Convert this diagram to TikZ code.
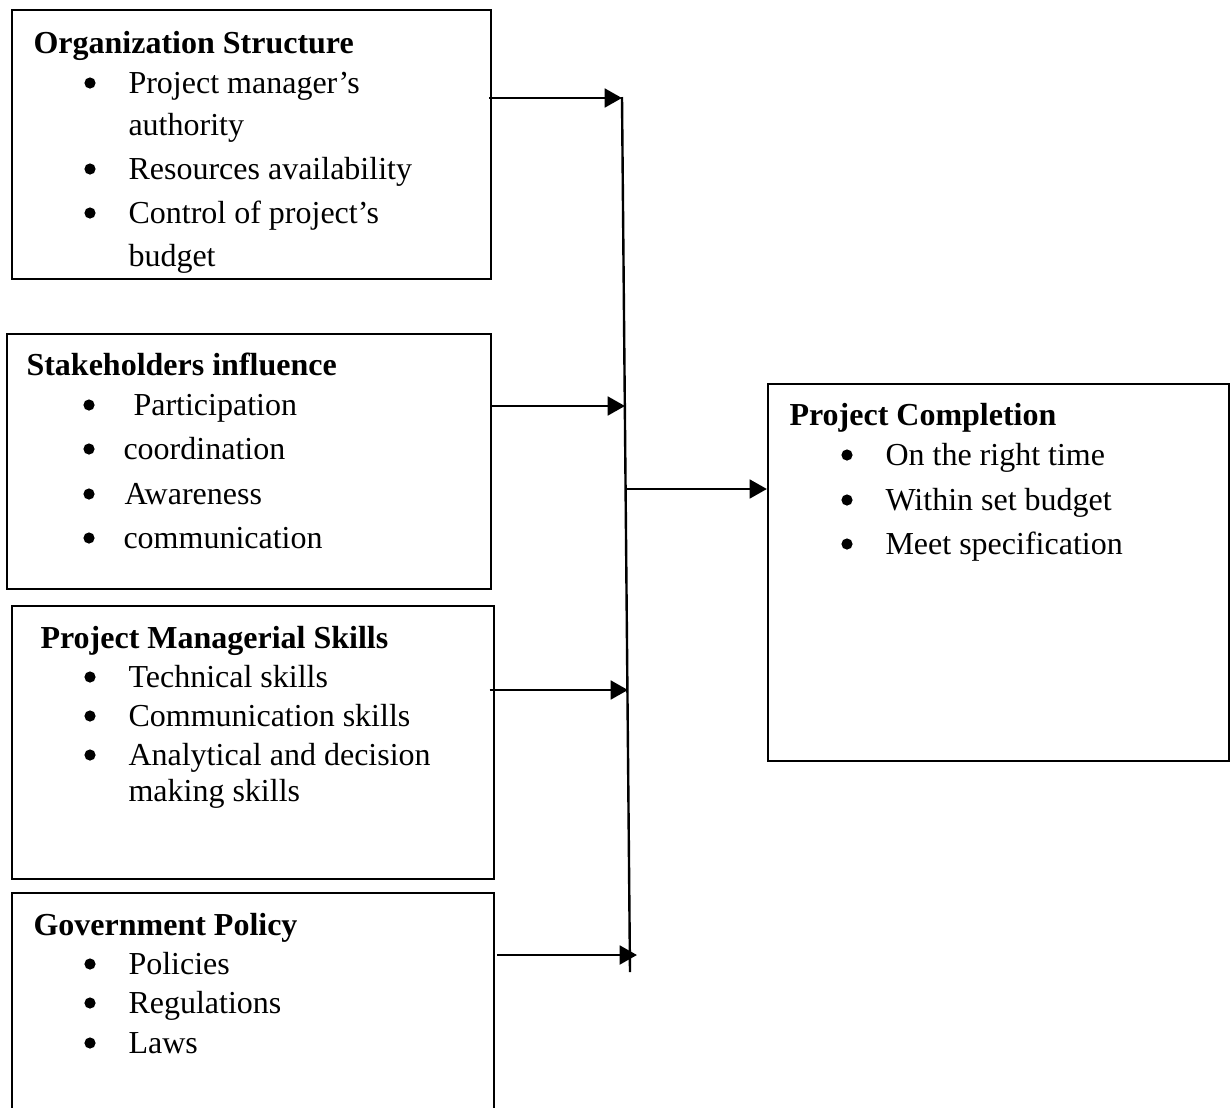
\documentclass[12pt,tikz,border=0pt]{standalone}
\usepackage{fontspec}
\setmainfont{Liberation Serif}
\usetikzlibrary{arrows.meta}
\usetikzlibrary{fit}
\tikzset{
    box/.style={draw, line width=0.8pt, inner sep=0pt},
    title/.style={anchor=base west, inner sep=0pt, font=\bfseries},
    item/.style={anchor=base west, inner sep=0pt},
    dot/.style={circle, fill, inner sep=0pt, minimum size=4.2pt},
    bus/.style={line width=0.9pt},
    link/.style={line width=1.1pt, -{Triangle[length=6.5pt, width=7pt]}}
}

\begin{document}
\begin{tikzpicture}[x=0.375pt, y=-0.375pt]
    \useasboundingbox (0,0) rectangle (1230,1108);

    % organization structure
    \node[box, fit={(12,10) (491,279)}] (org) {};
    \node[title] (org-title) at (33,53) {Organization Structure};
    \foreach \y in {93,179,223}
        \node[dot] (org-dot-\y) at (90,\y-10) {};
    \node[item] (org-1) at (128,93) {Project manager’s};
    \node[item] (org-1b) at (128,135) {authority};
    \node[item] (org-2) at (128,179) {Resources availability};
    \node[item] (org-3) at (128,223) {Control of project’s};
    \node[item] (org-3b) at (128,266) {budget};

    % stakeholders
    \node[box, fit={(7,334) (491,589)}] (stake) {};
    \node[title] (stake-title) at (26,375) {Stakeholders influence};
    \foreach \y in {415,459,504,548}
        \node[dot] (stake-dot-\y) at (89,\y-10) {};
    \node[item] (stake-1) at (133,415) {Participation};
    \node[item] (stake-2) at (123,459) {coordination};
    \node[item] (stake-3) at (124,504) {Awareness};
    \node[item] (stake-4) at (123,548) {communication};

    % managerial skills
    \node[box, fit={(12,606) (494,879)}] (skill) {};
    \node[title] (skill-title) at (40,648) {Project Managerial Skills};
    \foreach \y in {687,726,765}
        \node[dot] (skill-dot-\y) at (90,\y-10) {};
    \node[item] (skill-1) at (128,687) {Technical skills};
    \node[item] (skill-2) at (128,726) {Communication skills};
    \node[item] (skill-3) at (128,765) {Analytical and decision};
    \node[item] (skill-3b) at (128,801) {making skills};

    % government policy
    \node[box, fit={(12,893) (494,1114)}] (gov) {};
    \node[title] (gov-title) at (33,935) {Government Policy};
    \foreach \y in {974,1013,1053}
        \node[dot] (gov-dot-\y) at (90,\y-10) {};
    \node[item] (gov-1) at (128,974) {Policies};
    \node[item] (gov-2) at (128,1013) {Regulations};
    \node[item] (gov-3) at (128,1053) {Laws};

    % project completion
    \node[box, fit={(768,384) (1229,761)}] (done) {};
    \node[title] (done-title) at (789,425) {Project Completion};
    \foreach \y in {465,510,554}
        \node[dot] (done-dot-\y) at (847,\y-10) {};
    \node[item] (done-1) at (885,465) {On the right time};
    \node[item] (done-2) at (885,510) {Within set budget};
    \node[item] (done-3) at (885,554) {Meet specification};

    % collecting line
    \coordinate (bus-top) at (622,97);
    \coordinate (bus-bot) at (630,972);
    \coordinate (in-org) at (622,98);
    \coordinate (in-stake) at (625,406);
    \coordinate (in-skill) at (628,690);
    \coordinate (in-gov) at (637,955);
    \coordinate (out) at (626,489);

    \draw[bus] (bus-top) -- (bus-bot);
    \draw[link] ([xshift=-1pt]org.east |- in-org) -- (in-org);
    \draw[link] (stake.east |- in-stake) -- (in-stake);
    \draw[link] ([xshift=-2pt]skill.east |- in-skill) -- (in-skill);
    \draw[link] ([xshift=0.75pt]gov.east |- in-gov) -- (in-gov);
    \draw[link] (out) -- (done.west |- out);
\end{tikzpicture}
\end{document}
